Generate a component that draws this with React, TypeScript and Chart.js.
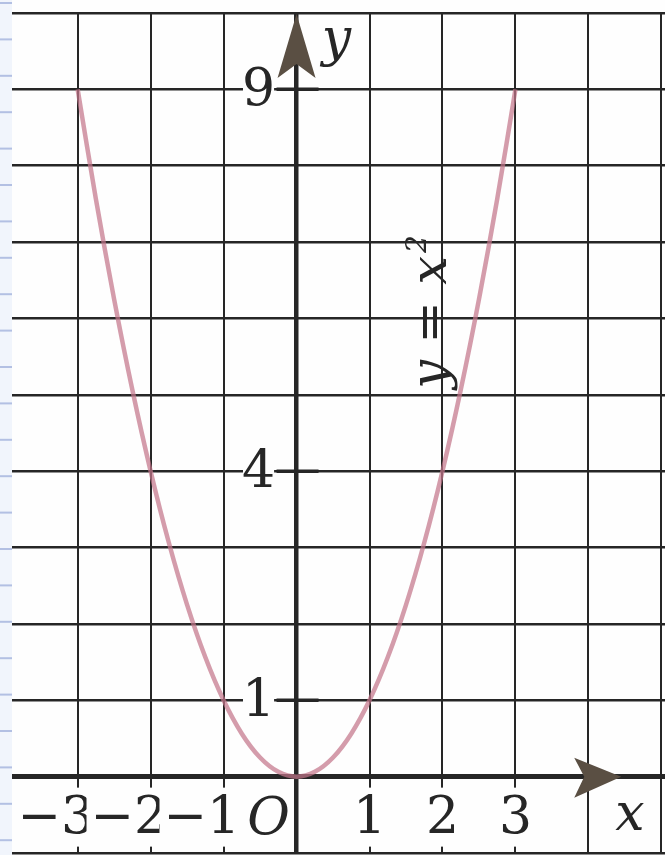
import React, { useEffect, useRef } from "react";
import { Chart, registerables } from "chart.js";

Chart.register(...registerables);

// Parabola y = x² sampled every quarter unit
const curveX = [-3, -2.75, -2.5, -2.25, -2, -1.75, -1.5, -1.25, -1, -0.75, -0.5, -0.25, 0, 0.25, 0.5, 0.75, 1, 1.25, 1.5, 1.75, 2, 2.25, 2.5, 2.75, 3];
const curveY = [9, 7.5625, 6.25, 5.0625, 4, 3.0625, 2.25, 1.5625, 1, 0.5625, 0.25, 0.0625, 0, 0.0625, 0.25, 0.5625, 1, 1.5625, 2.25, 3.0625, 4, 5.0625, 6.25, 7.5625, 9];

// Squared-paper grid lines
const xGridValues = [-3, -2, -1, 0, 1, 2, 3, 4, 5];
const yGridValues = [-1, 0, 1, 2, 3, 4, 5, 6, 7, 8, 9, 10];

// Axis labels
const xTickValues = [-3, -2, -1, 1, 2, 3];
const xTickLabels = ["\u22123", "\u22122", "\u22121", "1", "2", "3"];
const yTickValues = [1, 4, 9];
const yTickLabels = ["1", "4", "9"];
const originLabel = "O";
const xAxisName = "x";
const yAxisName = "y";
const curveLabelMain = "y = x";
const curveLabelPower = "2";

const X_MIN = -3.9;
const X_MAX = 5.05;
const Y_MIN = -1;
const Y_MAX = 10;
const X_ARROW_TIP = 4.45;
const CURVE_LABEL_AT = { x: 2.05, y: 5.08 };

const INK = "#262626";
const ARROW_INK = "#5a4f43";
const SERIF = "'DejaVu Serif', 'Liberation Serif', serif";

const paperPlugin = {
  id: "paper",
  beforeDraw(chart: any) {
    const { ctx, width, height, chartArea } = chart;
    ctx.save();
    ctx.fillStyle = "#fefefe";
    ctx.fillRect(0, 0, width, height);
    // notebook margin strip
    ctx.fillStyle = "#f1f5fc";
    ctx.fillRect(0, 0, chartArea.left, height);
    ctx.strokeStyle = "#b3c0e3";
    ctx.lineWidth = 2;
    for (let y = 3; y < height; y += 36.4) {
      ctx.beginPath();
      ctx.moveTo(0, y);
      ctx.lineTo(chartArea.left, y);
      ctx.stroke();
    }
    ctx.restore();
  },
};

const axesPlugin = {
  id: "axesDecor",
  afterDatasetsDraw(chart: any) {
    const { ctx, chartArea } = chart;
    const xs = chart.scales.x;
    const ys = chart.scales.y;
    const ox = xs.getPixelForValue(0);
    const oy = ys.getPixelForValue(0);

    ctx.save();
    // arrowheads
    ctx.fillStyle = ARROW_INK;
    const ty = chartArea.top + 1;
    ctx.beginPath();
    ctx.moveTo(ox, ty);
    ctx.lineTo(ox + 19, ty + 64);
    ctx.lineTo(ox, ty + 50);
    ctx.lineTo(ox - 19, ty + 64);
    ctx.closePath();
    ctx.fill();

    const tx = xs.getPixelForValue(X_ARROW_TIP);
    ctx.beginPath();
    ctx.moveTo(tx, oy);
    ctx.lineTo(tx - 47, oy - 19);
    ctx.lineTo(tx - 37, oy);
    ctx.lineTo(tx - 47, oy + 21);
    ctx.closePath();
    ctx.fill();

    // tick marks on the y axis
    ctx.strokeStyle = INK;
    ctx.lineWidth = 3.5;
    yTickValues.forEach((v) => {
      const py = ys.getPixelForValue(v);
      ctx.beginPath();
      ctx.moveTo(ox - 20, py);
      ctx.lineTo(ox + 22, py);
      ctx.stroke();
    });

    // x labels with white knock-outs over the grid
    ctx.font = `52px ${SERIF}`;
    ctx.textBaseline = "alphabetic";
    ctx.textAlign = "left";
    xTickValues.forEach((v, i) => {
      const label = xTickLabels[i];
      const gx = xs.getPixelForValue(v);
      const digitW = ctx.measureText(label.slice(-1)).width;
      const totalW = ctx.measureText(label).width;
      const right = gx + digitW / 2;
      const left = right - totalW;
      ctx.fillStyle = "#fefefe";
      ctx.fillRect(left - 4, oy + 11, totalW + 8, 59);
      ctx.fillStyle = INK;
      ctx.fillText(label, left, oy + 56);
    });

    // y labels
    ctx.textAlign = "center";
    yTickValues.forEach((v, i) => {
      const label = yTickLabels[i];
      const py = ys.getPixelForValue(v);
      const w = ctx.measureText(label).width;
      const cx = ox - 38;
      ctx.fillStyle = "#fefefe";
      ctx.fillRect(cx - w / 2 + 1, py - 26, w - 2, 44);
      ctx.fillStyle = INK;
      ctx.fillText(label, cx, py + 16);
    });

    // origin and axis names
    ctx.font = `italic 52px ${SERIF}`;
    ctx.fillStyle = INK;
    ctx.fillText(originLabel, ox - 28, oy + 57);
    ctx.fillText(yAxisName, ox + 40, chartArea.top + 42);
    ctx.fillText(xAxisName, xs.getPixelForValue(4.57), oy + 53);

    // curve label, running upward along the right branch
    ctx.translate(xs.getPixelForValue(CURVE_LABEL_AT.x), ys.getPixelForValue(CURVE_LABEL_AT.y));
    ctx.rotate(-Math.PI / 2);
    ctx.textAlign = "left";
    ctx.font = `italic 51px ${SERIF}`;
    ctx.fillText(curveLabelMain, 0, 0);
    const adv = ctx.measureText(curveLabelMain).width;
    ctx.font = `italic 28px ${SERIF}`;
    ctx.fillText(curveLabelPower, adv + 3, -20);
    ctx.restore();
  },
};

export default function App() {
  const canvasRef = useRef<HTMLCanvasElement | null>(null);

  useEffect(() => {
    if (!canvasRef.current) return;
    const gridWidth = (zero: number, other: number) => (c: any) => (c.tick && c.tick.value === 0 ? zero : other);
    const chart = new Chart(canvasRef.current, {
      type: "line",
      data: {
        datasets: [
          {
            label: "y = x²",
            data: curveX.map((x, i) => ({ x, y: curveY[i] })),
            borderColor: "rgba(196, 118, 138, 0.72)",
            borderWidth: 4.5,
            tension: 0.3,
            pointRadius: 0,
            fill: false,
          },
        ],
      },
      options: {
        animation: false,
        responsive: false,
        layout: { padding: { left: 12, top: 13, right: 0, bottom: 2 } },
        plugins: { legend: { display: false }, tooltip: { enabled: false } },
        scales: {
          x: {
            type: "linear",
            min: X_MIN,
            max: X_MAX,
            border: { display: false },
            ticks: { display: false },
            grid: { drawTicks: false, color: INK, lineWidth: gridWidth(4.5, 2) },
            afterBuildTicks: (s: any) => {
              s.ticks = xGridValues.map((value) => ({ value }));
            },
          },
          y: {
            type: "linear",
            min: Y_MIN,
            max: Y_MAX,
            border: { display: false },
            ticks: { display: false },
            grid: { drawTicks: false, color: INK, lineWidth: gridWidth(5, 2.5) },
            afterBuildTicks: (s: any) => {
              s.ticks = yGridValues.map((value) => ({ value }));
            },
          },
        },
      },
      plugins: [paperPlugin, axesPlugin],
    } as any);
    return () => chart.destroy();
  }, []);

  return (
    <div style={{ position: "absolute", left: 0, top: 0, width: 665, height: 855 }}>
      <canvas ref={canvasRef} width={665} height={855} style={{ display: "block" }} />
    </div>
  );
}
